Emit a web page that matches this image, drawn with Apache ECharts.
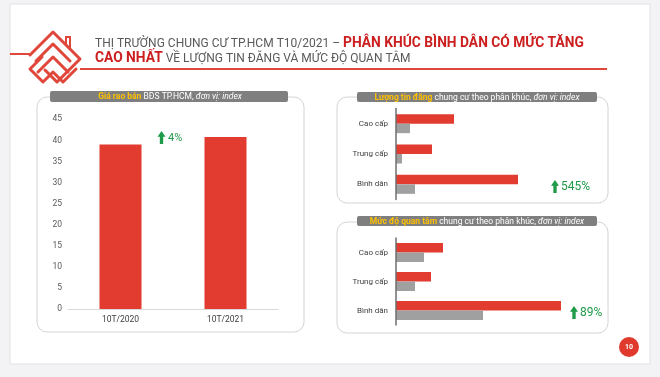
<!DOCTYPE html>
<html><head><meta charset="utf-8">
<script src="https://cdn.jsdelivr.net/npm/echarts@6/dist/echarts.min.js"></script>
<style>html,body{margin:0;padding:0;background:#f3f3f5;}#c{width:660px;height:377px;}</style>
</head><body><div id="c"></div>
<script>
// ---- data ----
const priceCategories = ['10T/2020', '10T/2021'];
const priceValues = [39, 40.8];
const segments = ['Cao cấp', 'Trung cấp', 'Bình dân'];
const listings2021 = [58, 36, 122];
const listings2020 = [14, 6, 19];
const interest2021 = [47, 35, 165];
const interest2020 = [28, 19, 87];
const priceAxisMax = 45;
const priceAxisStep = 5;
const annotations = ['4%', '545%', '89%'];

const RED = '#e23b2f', GRAY = '#a0a0a0', GREEN = '#1f9a48', HDR = '#7f7f7f', GOLD = '#ffc000';
const FONT = 'Roboto, "Liberation Sans", sans-serif';

const chart = echarts.init(document.getElementById('c'), null, {renderer: 'canvas'});

function arrow(x, y, w, h) {
  const sw = w * 0.42;
  return {type: 'polygon', shape: {points: [[x, y], [x + w / 2, y + h * 0.45], [x + sw / 2, y + h * 0.45], [x + sw / 2, y + h], [x - sw / 2, y + h], [x - sw / 2, y + h * 0.45], [x - w / 2, y + h * 0.45]]}, style: {fill: GREEN}, z: 20};
}
function header(x, y, w, h, gold, rest, cx) {
  return [
    {type: 'rect', shape: {x: x, y: y, width: w, height: h, r: 2}, style: {fill: HDR}, z: 10},
    {type: 'text', x: cx, y: y + h / 2 + 0.5, z: 11, style: {
      text: '{a|' + gold + '}{b|' + rest + '}{c|đơn vị: index}',
      align: 'center', verticalAlign: 'middle',
      rich: {
        a: {fill: GOLD, fontWeight: 'bold', fontSize: 8.5, fontFamily: FONT},
        b: {fill: '#fff', fontSize: 8.5, fontFamily: FONT},
        c: {fill: '#fff', fontSize: 8.5, fontStyle: 'italic', fontFamily: FONT}
      }}}
  ];
}
function panel(x, y, w, h) {
  return {type: 'rect', shape: {x: x, y: y, width: w, height: h, r: 10}, style: {fill: '#fff', stroke: '#d4d4d4', lineWidth: 1}, z: 1};
}

const LOGO = '#e0463a';
const logoStyle = {stroke: LOGO, lineWidth: 3, fill: null, lineJoin: 'round', lineCap: 'round'};
const titleRich = {
  g: {fill: '#595959', fontSize: 12, fontFamily: FONT},
  r: {fill: '#cc1f1f', fontSize: 13.8, fontWeight: 'bold', fontFamily: FONT}
};
const graphics = [
  {type: 'rect', shape: {x: 10, y: 4, width: 640, height: 360}, style: {fill: '#fff', stroke: '#e2e2e4', lineWidth: 1}, z: 0},
  {type: 'line', shape: {x1: 10, y1: 54, x2: 30, y2: 54}, style: {stroke: LOGO, lineWidth: 2}, z: 2},
  {type: 'line', shape: {x1: 80, y1: 69, x2: 607, y2: 69}, style: {stroke: LOGO, lineWidth: 2}, z: 2},
  // logo
  {type: 'polyline', shape: {points: [[30, 55], [53, 32], [80, 59], [57, 82], [45, 70]]}, style: logoStyle, z: 3},
  {type: 'polyline', shape: {points: [[36, 61], [53, 44], [70, 61]]}, style: logoStyle, z: 3},
  {type: 'polyline', shape: {points: [[42, 57], [30, 69], [43, 82], [53, 72], [63, 82], [76, 69]]}, style: logoStyle, z: 3},
  {type: 'polyline', shape: {points: [[38, 72], [53, 57], [68, 72]]}, style: logoStyle, z: 3},
  {type: 'polyline', shape: {points: [[66, 45], [66, 37], [70, 37], [70, 49]]}, style: {stroke: LOGO, lineWidth: 2, fill: null}, z: 3},
  // title
  {type: 'text', x: 95, y: 44, z: 5, style: {
    text: '{g|THỊ TRƯỜNG CHUNG CƯ TP.HCM T10/2021 – }{r|PHÂN KHÚC BÌNH DÂN CÓ MỨC TĂNG}',
    verticalAlign: 'middle', rich: titleRich}},
  {type: 'text', x: 95, y: 59, z: 5, style: {
    text: '{r|CAO NHẤT}{g| VỀ LƯỢNG TIN ĐĂNG VÀ MỨC ĐỘ QUAN TÂM}',
    verticalAlign: 'middle', rich: titleRich}},
  // panels
  panel(37, 97, 267, 235),
  panel(337, 97, 271, 106),
  panel(337, 222, 271, 111),
  ...header(50, 91, 238, 11, 'Giá rao bán', ' BĐS TP.HCM, ', 170),
  ...header(357, 92, 240, 10, 'Lượng tin đăng', ' chung cư theo phân khúc, ', 477),
  ...header(357, 216, 240, 10, 'Mức độ quan tâm', ' chung cư theo phân khúc, ', 477),
  // annotations
  arrow(161.5, 131, 8, 13),
  {type: 'text', x: 168, y: 138, z: 20, style: {text: annotations[0], fill: GREEN, fontSize: 11, fontFamily: FONT, verticalAlign: 'middle'}},
  arrow(555, 180, 8, 13),
  {type: 'text', x: 561, y: 187, z: 20, style: {text: annotations[1], fill: GREEN, fontSize: 12, fontFamily: FONT, verticalAlign: 'middle'}},
  arrow(574, 306, 8, 13),
  {type: 'text', x: 580, y: 313, z: 20, style: {text: annotations[2], fill: GREEN, fontSize: 12, fontFamily: FONT, verticalAlign: 'middle'}},
  // page number
  {type: 'circle', shape: {cx: 629, cy: 347, r: 10}, style: {fill: '#e03a2e'}, z: 5},
  {type: 'text', x: 629, y: 347.5, z: 6, style: {text: '10', fill: '#fff', fontSize: 7, fontWeight: 'bold', fontFamily: FONT, align: 'center', verticalAlign: 'middle'}}
];

const catLabel = {color: '#404040', fontSize: 8, fontFamily: FONT, margin: 8};
const catLine = {show: true, onZero: false, lineStyle: {color: '#6e6e6e', width: 1.5}};
const option = {
  animation: false,
  backgroundColor: '#f3f3f5',
  graphic: {elements: graphics},
  grid: [
    {left: 68, top: 119.3, width: 210, height: 189.7},
    {left: 396, top: 108.5, width: 200, height: 91},
    {left: 396, top: 238, width: 200, height: 87}
  ],
  xAxis: [
    {gridIndex: 0, z: 10, type: 'category', data: priceCategories, axisTick: {show: false},
     axisLine: {lineStyle: {color: '#d9d9d9'}}, axisLabel: {color: '#404040', fontSize: 8.5, fontFamily: FONT, margin: 6}},
    {gridIndex: 1, type: 'value', min: 0, max: 200, axisLine: {show: false}, axisTick: {show: false}, axisLabel: {show: false}, splitLine: {show: false}},
    {gridIndex: 2, type: 'value', min: 0, max: 200, axisLine: {show: false}, axisTick: {show: false}, axisLabel: {show: false}, splitLine: {show: false}}
  ],
  yAxis: [
    {gridIndex: 0, z: 10, type: 'value', min: 0, max: priceAxisMax, interval: priceAxisStep, splitLine: {show: false},
     axisLine: {show: false}, axisTick: {show: false}, axisLabel: {color: '#595959', fontSize: 8.5, fontFamily: FONT, margin: 6}},
    {gridIndex: 1, z: 10, type: 'category', data: segments, inverse: true, axisTick: {show: false},
     axisLine: catLine, axisLabel: catLabel},
    {gridIndex: 2, z: 10, type: 'category', data: segments, inverse: true, axisTick: {show: false},
     axisLine: catLine, axisLabel: catLabel}
  ],
  series: [
    {type: 'bar', z: 5, xAxisIndex: 0, yAxisIndex: 0, data: priceValues, barWidth: 42, itemStyle: {color: RED}},
    {type: 'bar', z: 5, xAxisIndex: 1, yAxisIndex: 1, data: listings2021, barWidth: 9.5, barGap: 0, itemStyle: {color: RED}},
    {type: 'bar', z: 5, xAxisIndex: 1, yAxisIndex: 1, data: listings2020, barWidth: 9.5, barGap: 0, itemStyle: {color: GRAY}},
    {type: 'bar', z: 5, xAxisIndex: 2, yAxisIndex: 2, data: interest2021, barWidth: 9.5, barGap: 0, itemStyle: {color: RED}},
    {type: 'bar', z: 5, xAxisIndex: 2, yAxisIndex: 2, data: interest2020, barWidth: 9.5, barGap: 0, itemStyle: {color: GRAY}}
  ]
};
chart.setOption(option);
</script></body></html>
